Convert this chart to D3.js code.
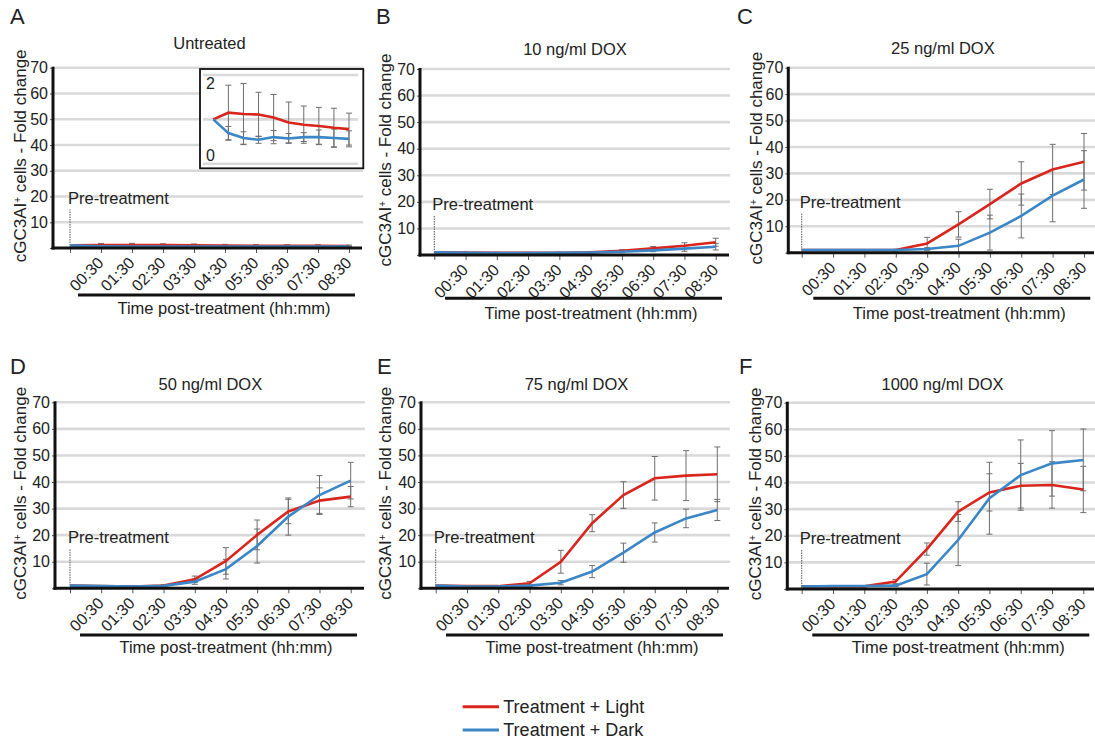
<!DOCTYPE html>
<html><head><meta charset="utf-8">
<script src="https://cdn.jsdelivr.net/npm/d3@7"></script>
<style>
body{margin:0;background:#fff;}
svg text{font-family:"Liberation Sans", Arial, sans-serif;fill:#222;}
</style></head>
<body><svg id="c" width="1095" height="742"></svg>
<script>
// ---------- data ----------
const categories = ["Pre","00:30","01:30","02:30","03:30","04:30","05:30","06:30","07:30","08:30"];
const tickLabels = ["","00:30","01:30","02:30","03:30","04:30","05:30","06:30","07:30","08:30"];
const yTicks = [10,20,30,40,50,60,70];
const insetTicks = [0,2];
const panelLetters = ["A","B","C","D","E","F"];
const panelTitles = ["Untreated","10 ng/ml DOX","25 ng/ml DOX","50 ng/ml DOX","75 ng/ml DOX","1000 ng/ml DOX"];
const seriesNames = ["Treatment + Light","Treatment + Dark"];

const untreatedLight    = [1.0,1.15,1.12,1.11,1.04,0.93,0.88,0.85,0.81,0.78];
const untreatedLightErr = [0,0.62,0.69,0.50,0.52,0.46,0.42,0.42,0.44,0.36];
const untreatedDark     = [1.0,0.69,0.58,0.54,0.60,0.57,0.60,0.60,0.58,0.56];
const untreatedDarkErr  = [0,0.15,0.14,0.08,0.15,0.11,0.10,0.16,0.20,0.18];

const dox10Light    = [1.0,0.9,0.8,0.8,0.85,1.0,1.6,2.5,3.5,4.8];
const dox10LightErr = [0,0.2,0.2,0.2,0.2,0.3,0.4,0.7,1.1,1.5];
const dox10Dark     = [1.0,0.85,0.75,0.75,0.8,0.95,1.25,1.75,2.4,3.1];
const dox10DarkErr  = [0,0.2,0.2,0.2,0.2,0.3,0.4,0.5,1.0,1.2];

const dox25Light    = [1.0,1.0,1.0,1.0,3.5,10.7,18.4,26.2,31.5,34.4];
const dox25LightErr = [0,0.2,0.2,0.3,2.3,4.8,5.6,8.2,9.5,10.7];
const dox25Dark     = [1.0,1.0,1.0,1.0,1.4,2.6,7.6,13.9,21.6,27.7];
const dox25DarkErr  = [0,0.2,0.2,0.2,0.5,2.5,6.6,8.3,9.9,10.9];

const dox50Light    = [1.0,0.8,0.7,1.0,3.4,10.3,20.1,28.9,33.0,34.5];
const dox50LightErr = [0,0.2,0.2,0.3,1.2,5.0,5.6,4.6,4.8,3.8];
const dox50Dark     = [1.0,0.8,0.7,0.9,2.5,7.2,15.9,27.0,35.1,40.5];
const dox50DarkErr  = [0,0.2,0.2,0.3,1.0,3.7,6.4,7.0,7.3,6.9];

const dox75Light    = [1.0,0.8,0.8,1.9,10.0,24.5,35.1,41.4,42.4,42.9];
const dox75LightErr = [0,0.2,0.2,0.7,4.3,3.2,5.0,8.2,9.4,10.3];
const dox75Dark     = [1.0,0.7,0.7,1.0,2.1,6.3,13.4,21.0,26.3,29.5];
const dox75DarkErr  = [0,0.2,0.2,0.3,0.8,2.3,3.6,3.6,3.5,4.0];

const dox1000Light    = [1.0,1.0,1.0,2.8,15.0,29.1,36.3,38.8,39.1,37.4];
const dox1000LightErr = [0,0.2,0.2,0.8,2.3,3.7,7.0,8.4,8.7,8.7];
const dox1000Dark     = [0.9,1.1,1.1,1.25,5.6,18.4,34.1,42.8,47.2,48.5];
const dox1000DarkErr  = [0,0.2,0.2,0.3,4.1,9.6,13.5,13.2,12.3,11.6];

const preMarker = 15; // height of pre-treatment marker
// ---------- layout (positions only) ----------
const layout = [
 {axis:53,  top:67.7, bottom:248,   xs:70,    xe:349,    right:363,  titleY:43.3, barY:295,   xTitleY:308, ylabX:20,  letterX:10,  letterY:24},
 {axis:420, top:69,   bottom:255,   xs:434.3, xe:715.7,  right:730,  titleY:49.7, barY:298.3, xTitleY:313, ylabX:385, letterX:376, letterY:24},
 {axis:788.3,top:67.7,bottom:252.7, xs:801.7, xe:1084,   right:1095, titleY:48.7, barY:298.3, xTitleY:313, ylabX:756, letterX:737, letterY:24},
 {axis:55,  top:402.3,bottom:588.3, xs:70,    xe:350.7,  right:365,  titleY:384,  barY:635,   xTitleY:647, ylabX:20,  letterX:10,  letterY:374},
 {axis:421, top:402.3,bottom:588.3, xs:435.7, xe:717.3,  right:730,  titleY:384,  barY:635,   xTitleY:647, ylabX:385, letterX:377, letterY:374},
 {axis:787.3,top:402.7,bottom:589,  xs:801.7, xe:1083.3, right:1095, titleY:384,  barY:635,   xTitleY:647, ylabX:755, letterX:739, letterY:374}
];
const panelData = [
 [untreatedLight,untreatedLightErr,untreatedDark,untreatedDarkErr],
 [dox10Light,dox10LightErr,dox10Dark,dox10DarkErr],
 [dox25Light,dox25LightErr,dox25Dark,dox25DarkErr],
 [dox50Light,dox50LightErr,dox50Dark,dox50DarkErr],
 [dox75Light,dox75LightErr,dox75Dark,dox75DarkErr],
 [dox1000Light,dox1000LightErr,dox1000Dark,dox1000DarkErr]
];
const RED = "#d8261d", BLUE = "#3a86c6", GRID = "#d9d9d9", ERR = "#6e6e6e";
const FS = 16.5;

const svg = d3.select("#c");

function drawSeries(g, x, y, vals, errs, color, capW){
  const pts = categories.map((c,i)=>({c, v:vals[i], e:errs[i]}));
  const eb = g.append("g");
  pts.filter(d=>d.e>0).forEach(d=>{
    const cx = x(d.c);
    eb.append("line").attr("x1",cx).attr("x2",cx).attr("y1",y(d.v+d.e)).attr("y2",y(d.v-d.e))
      .attr("stroke",ERR).attr("stroke-width",1);
    [d.v+d.e, d.v-d.e].forEach(t=>{
      eb.append("line").attr("x1",cx-capW).attr("x2",cx+capW).attr("y1",y(t)).attr("y2",y(t))
        .attr("stroke",ERR).attr("stroke-width",1);
    });
  });
  return pts;
}

layout.forEach((L,p)=>{
  const g = svg.append("g");
  const x = d3.scalePoint().domain(categories).range([L.xs, L.xe]);
  const y = d3.scaleLinear().domain([0,70]).range([L.bottom, L.top]);

  // gridlines
  g.append("g").selectAll("line").data(yTicks).join("line")
    .attr("x1",L.axis).attr("x2",L.right).attr("y1",d=>y(d)).attr("y2",d=>y(d))
    .attr("stroke",GRID).attr("stroke-width",2.6);

  // y axis
  const ya = g.append("g").attr("transform",`translate(${L.axis},0)`)
    .call(d3.axisLeft(y).tickValues([0].concat(yTicks)).tickSize(3).tickPadding(2)
      .tickFormat(d=>d===0?"":d));
  ya.select(".domain").remove();
  ya.selectAll(".tick line").attr("stroke","#555");
  ya.selectAll("text").attr("font-size",16).attr("fill","#222").attr("font-family","Liberation Sans, Arial, sans-serif");

  // x axis ticks
  const xa = g.append("g").attr("transform",`translate(0,${L.bottom})`)
    .call(d3.axisBottom(x).tickSize(5).tickFormat((d,i)=>tickLabels[i]));
  xa.select(".domain").remove();
  xa.selectAll(".tick line").attr("stroke","#555");
  xa.selectAll("text").attr("font-size",16).attr("fill","#222")
    .attr("font-family","Liberation Sans, Arial, sans-serif")
    .attr("text-anchor","end").attr("dy",0)
    .attr("transform","translate(3,16) rotate(-45)").attr("y",0).attr("x",0);

  // pre-treatment marker
  g.append("line").attr("x1",x("Pre")).attr("x2",x("Pre")).attr("y1",y(0)).attr("y2",y(preMarker))
    .attr("stroke","#555").attr("stroke-width",1).attr("stroke-dasharray","1.5,1");
  g.append("text").attr("x",x("Pre")-2).attr("y",y(17)).attr("font-size",FS).text("Pre-treatment");

  const [lv,le,dv,de] = panelData[p];
  const lp = drawSeries(g,x,y,lv,le,RED,3);
  const dp = drawSeries(g,x,y,dv,de,BLUE,3);
  const line = d3.line().x(d=>x(d.c)).y(d=>y(d.v));
  g.append("path").datum(lp).attr("d",line).attr("fill","none").attr("stroke",RED).attr("stroke-width",2.6);
  g.append("path").datum(dp).attr("d",line).attr("fill","none").attr("stroke",BLUE).attr("stroke-width",2.6);

  // axis lines
  g.append("line").attr("x1",L.axis).attr("x2",L.axis).attr("y1",L.top-1).attr("y2",L.bottom+1.5)
    .attr("stroke","#111").attr("stroke-width",3);
  g.append("line").attr("x1",L.axis-1.5).attr("x2",L.right-1).attr("y1",L.bottom).attr("y2",L.bottom)
    .attr("stroke","#111").attr("stroke-width",3);

  // title, letter
  g.append("text").attr("x",(L.xs+L.xe)/2).attr("y",L.titleY).attr("dy","0.35em").attr("text-anchor","middle")
    .attr("font-size",FS).text(panelTitles[p]);
  g.append("text").attr("x",L.letterX).attr("y",L.letterY).attr("font-size",22).attr("fill","#111").text(panelLetters[p]);

  // x title bar & label
  g.append("line").attr("x1",L.axis+25).attr("x2",L.axis+302).attr("y1",L.barY).attr("y2",L.barY)
    .attr("stroke","#111").attr("stroke-width",3);
  g.append("text").attr("x",L.axis+171).attr("y",L.xTitleY).attr("dy","0.35em").attr("text-anchor","middle")
    .attr("font-size",FS).text("Time post-treatment (hh:mm)");

  // y title
  const yt = g.append("text").attr("transform",`translate(${L.ylabX},${(L.top+L.bottom)/2-2}) rotate(-90)`)
    .attr("text-anchor","middle").attr("dy","0.35em").attr("font-size",17);
  yt.append("tspan").text("cGC3AI");
  yt.append("tspan").attr("font-size",10).attr("baseline-shift","super").text("+");
  yt.append("tspan").text(" cells - Fold change");

  // inset for panel A
  if(p===0){
    const ix = d3.scalePoint().domain(categories).range([213.3,349]);
    const iy = d3.scaleLinear().domain([0,2]).range([163.7,75]);
    const ig = svg.append("g");
    ig.append("rect").attr("x",200).attr("y",69).attr("width",163.3).attr("height",99.3)
      .attr("fill","#fff").attr("stroke","#111").attr("stroke-width",1.8);
    ig.selectAll("line.g").data([0,1,2]).join("line")
      .attr("x1",203).attr("x2",358).attr("y1",d=>iy(d)).attr("y2",d=>iy(d))
      .attr("stroke",GRID).attr("stroke-width",2.6);
    ig.append("text").attr("x",206).attr("y",iy(2)+14).attr("font-size",16).text(insetTicks[1]);
    ig.append("text").attr("x",206).attr("y",iy(0)-3).attr("font-size",16).text(insetTicks[0]);
    const ilp = drawSeries(ig,ix,iy,lv,le,RED,3);
    const idp = drawSeries(ig,ix,iy,dv,de,BLUE,3);
    const il = d3.line().x(d=>ix(d.c)).y(d=>iy(d.v));
    ig.append("path").datum(ilp).attr("d",il).attr("fill","none").attr("stroke",RED).attr("stroke-width",2.6);
    ig.append("path").datum(idp).attr("d",il).attr("fill","none").attr("stroke",BLUE).attr("stroke-width",2.6);
  }
});

// legend
const lg = svg.append("g");
const colors = [RED, BLUE];
seriesNames.forEach((s,i)=>{
  const yy = 706.7 + i*23.3;
  lg.append("line").attr("x1",462.7).attr("x2",499).attr("y1",yy).attr("y2",yy)
    .attr("stroke",colors[i]).attr("stroke-width",3);
  lg.append("text").attr("x",503.3).attr("y",yy).attr("dy","0.35em").attr("font-size",18).text(s);
});
</script></body></html>
